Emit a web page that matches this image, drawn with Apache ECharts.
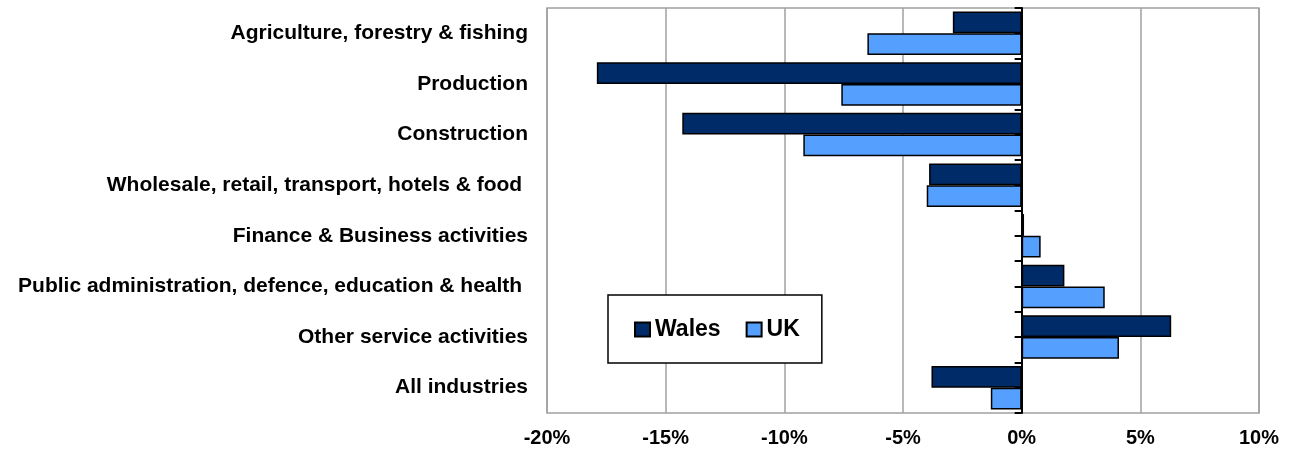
<!DOCTYPE html>
<html>
<head>
<meta charset="utf-8">
<script src="https://cdn.jsdelivr.net/npm/echarts@6/dist/echarts.min.js"></script>
<style>
	html, body { margin: 0; padding: 0; background: #fff; }
	#myChart { width: 1295px; height: 457px; }
</style>
</head>
<body>
<div id="myChart"></div>
<script>
// categories, top to bottom
var industries = [
	'Agriculture, forestry & fishing',
	'Production',
	'Construction',
	'Wholesale, retail, transport, hotels & food ',
	'Finance & Business activities',
	'Public administration, defence, education & health ',
	'Other service activities',
	'All industries'
];
// % change
var walesValues = [-2.9, -17.9, -14.3, -3.9, 0.1, 1.8, 6.3, -3.8];
var ukValues = [-6.5, -7.6, -9.2, -4.0, 0.8, 3.5, 4.1, -1.3];
var xTicks = { min: -20, max: 10, step: 5 };

// empty slots: one tick at every half band on the zero line
var halfBands = [];
for (var i = 0; i < industries.length * 2; i++) halfBands.push('');

var myChart = echarts.init(document.getElementById('myChart'));
var option = {
	animation: false,
	grid: {
		left: 547, right: 36, top: 8, bottom: 44,
		show: true,
		borderColor: '#a0a0a0',
		borderWidth: 1.5
	},
	legend: {
		data: ['Wales', 'UK'],
		left: 608, top: 295,
		orient: 'horizontal',
		icon: 'rect',
		itemWidth: 15, itemHeight: 14,
		itemGap: 25,
		padding: [23, 22, 22, 26],
		backgroundColor: '#fff',
		borderColor: '#000',
		borderWidth: 1.5,
		textStyle: { fontSize: 23, fontWeight: 'bold', color: '#000', fontFamily: 'Liberation Sans, Arial, sans-serif' }
	},
	xAxis: {
		type: 'value',
		min: xTicks.min, max: xTicks.max, interval: xTicks.step,
		axisLine: { show: false },
		axisTick: { show: false },
		axisLabel: {
			formatter: '{value}%',
			margin: 15,
			fontSize: 20,
			fontWeight: 'bold',
			color: '#000',
			fontFamily: 'Liberation Sans, Arial, sans-serif'
		},
		splitLine: { lineStyle: { color: '#a0a0a0', width: 1.5 } }
	},
	yAxis: [{
		// labels at the left edge
		type: 'category',
		data: industries,
		inverse: true,
		position: 'left',
		axisLine: { show: false, onZero: false },
		axisTick: { show: false },
		axisLabel: {
			margin: 19,
			padding: [5, 0, 0, 0],
			fontSize: 21,
			fontWeight: 'bold',
			color: '#000',
			fontFamily: 'Liberation Sans, Arial, sans-serif'
		}
	}, {
		// black line at 0%
		type: 'category',
		data: halfBands,
		inverse: true,
		position: 'left',
		axisLine: { show: true, onZero: true, lineStyle: { color: '#000', width: 2 } },
		axisTick: { show: true, length: 7, lineStyle: { color: '#000', width: 2 } },
		axisLabel: { show: false }
	}],
	series: [{
		name: 'Wales',
		type: 'bar',
		yAxisIndex: 0,
		data: walesValues,
		barGap: '0%',
		barCategoryGap: '14%',
		itemStyle: { color: '#002b69', borderColor: '#000', borderWidth: 1.5 }
	}, {
		name: 'UK',
		type: 'bar',
		yAxisIndex: 0,
		data: ukValues,
		barGap: '0%',
		barCategoryGap: '14%',
		itemStyle: { color: '#559fff', borderColor: '#000', borderWidth: 1.5 }
	}]
};
myChart.setOption(option);
</script>
</body>
</html>
